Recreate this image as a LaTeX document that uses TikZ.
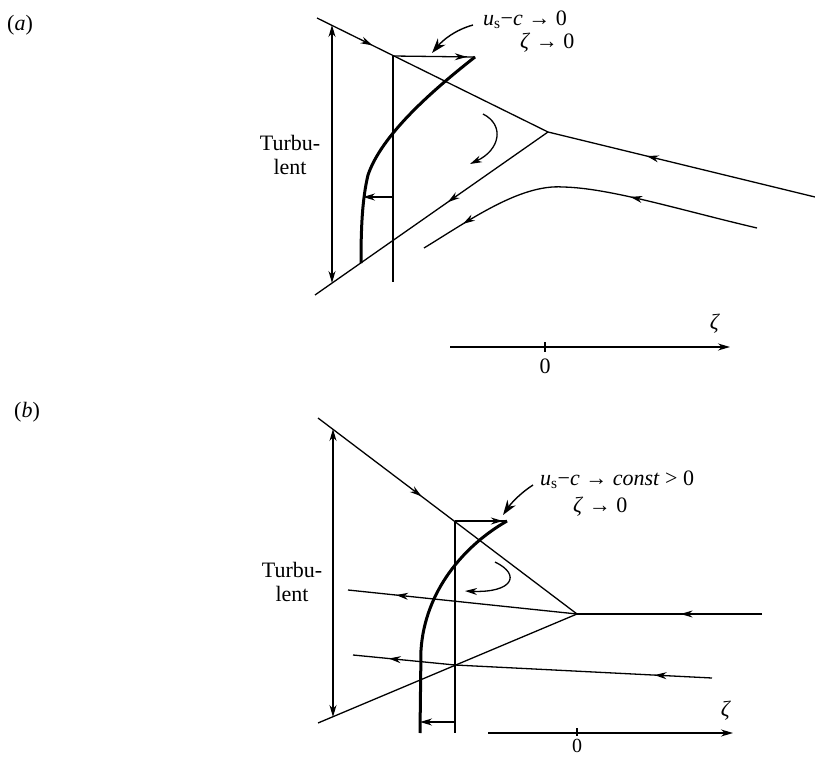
\documentclass[tikz,border=0pt]{standalone}
\usepackage{fontspec}
\setmainfont{Liberation Serif}
\usetikzlibrary{arrows.meta,decorations.markings,calc}
\tikzset{
  thinln/.style={line width=1.3pt},
  thickln/.style={line width=3pt},
  hd/.tip={Stealth[length=12pt,width=7pt]},
  bighd/.tip={Stealth[length=15pt,width=10pt]},
  midarr/.style={postaction={decorate,decoration={markings,mark=at position #1 with {\arrow{hd}}}}},
  midarrtwo/.style 2 args={postaction={decorate,decoration={markings,mark=at position #1 with {\arrow{hd}},mark=at position #2 with {\arrow{hd}}}}},
  lbl/.style={inner sep=0pt,font=\fontsize{22}{24}\selectfont},
  turb/.style={inner sep=0pt,align=center,font=\fontsize{22}{24}\selectfont}
}
\newcommand{\usc}{\textit{u}\textsubscript{s}−\textit{c}}
\begin{document}
\begin{tikzpicture}[x=1pt,y=-1pt]
\useasboundingbox (0,0) rectangle (815,760);
\clip (0,0) rectangle (815,760);
\fill[white] (0,0) rectangle (815,760);

% ---------------- panel (a) ----------------
\node[lbl] (la) at (20,25) {(\textit{a})};
\coordinate (T1) at (317,18);
\coordinate (A1) at (548,132);
\coordinate (R1) at (815,197);
\coordinate (B1) at (315,295);
\draw[thinln,midarr=0.24] (T1) -- (A1);
\draw[thinln,midarr=0.63] (R1) -- (A1);
\draw[thinln,midarr=0.43] (A1) -- (B1);
% double arrow
\coordinate (DA1) at (332,25);
\coordinate (DB1) at (332,283);
\draw[thinln,{hd}-{hd}] (DA1) -- (DB1);
\node[turb] (tu1) at (290,155) {Turbu-\\lent};
% thin vertical line
\coordinate (V1) at (393,56);
\coordinate (W1) at (393,282);
\draw[thinln] (V1) -- (W1);
% velocity profile
\coordinate (Q1) at (475,57);
\coordinate (M1) at (368,175);
\coordinate (E1) at (361,263);
\draw[thinln,midarr=0.9] (V1) -- (Q1);
\draw[thickln,line join=round] (Q1) .. controls (420,100) and (380,140) .. (M1) .. controls (362,200) and (361,230) .. (E1);
\coordinate (h1s) at (393,197);
\coordinate (h1e) at (363,197);
\draw[thinln,-{hd}] (h1s) -- (h1e);
% recirculation arrow
\coordinate (c1s) at (483,114);
\coordinate (c1e) at (470,164);
\draw[thinln,-{hd}] (c1s) .. controls (505,125) and (500,150) .. (c1e);
% lower streamline
\coordinate (S1) at (757,228);
\coordinate (P1) at (563,187);
\coordinate (F1) at (424,248);
\draw[thinln,midarrtwo={0.37}{0.87}] (S1) .. controls (680,210) and (610,188) .. (P1) .. controls (520,184) and (470,220) .. (F1);
% label and leader
\node[lbl,anchor=west] (u1) at (483,20) {\usc\ → 0};
\node[lbl,anchor=west] (z1) at (520,43) {\textit{ζ} → 0};
\coordinate (L1s) at (473,25);
\coordinate (L1e) at (432,53);
\draw[line width=1.4pt,-{bighd}] (L1s) .. controls (455,30) and (443,40) .. (L1e);
% axis
\coordinate (X1a) at (450,347);
\coordinate (X1b) at (730,347);
\draw[thinln,-{hd}] (X1a) -- (X1b);
\coordinate (k1) at (545,347);
\draw[thinln] ($(k1)+(0,-5)$) -- ($(k1)+(0,5)$);
\node[lbl] (o1) at (545,366) {0};
\node[lbl] (zeta1) at (715,324) {\textit{ζ}};

% ---------------- panel (b) ----------------
\node[lbl] (lb) at (27,412) {(\textit{b})};
\coordinate (T2) at (318,418);
\coordinate (A2) at (577,614);
\coordinate (R2) at (762,614);
\coordinate (B2) at (318,723);
\draw[thinln,midarr=0.40] (T2) -- (A2);
\draw[thinln,midarr=0.44] (R2) -- (A2);
\draw[thinln] (A2) -- (B2);
% double arrow
\coordinate (DA2) at (333,429);
\coordinate (DB2) at (333,717);
\draw[thinln,{hd}-{hd}] (DA2) -- (DB2);
\node[turb] (tu2) at (292,582) {Turbu-\\lent};
% thin vertical line
\coordinate (V2) at (455,521);
\coordinate (W2) at (455,733);
\draw[thinln] (V2) -- (W2);
% velocity profile
\coordinate (Q2) at (507,521);
\coordinate (M2) at (421,650);
\coordinate (E2) at (420,733);
\draw[thinln,midarr=0.92] (V2) -- (Q2);
\draw[thickln,line join=round] (Q2) .. controls (465,545) and (425,590) .. (M2) -- (E2);
\coordinate (h2s) at (455,722);
\coordinate (h2e) at (420,722);
\draw[thinln,-{hd}] (h2s) -- (h2e);
% recirculation arrow
\coordinate (c2s) at (495,562);
\coordinate (c2e) at (465,591);
\draw[thinln,-{hd}] (c2s) .. controls (522,575) and (512,593) .. (c2e);
% streamlines
\coordinate (S21) at (348,590);
\draw[thinln,midarr=0.79] (A2) -- (S21);
\coordinate (S22) at (712,678);
\coordinate (X22) at (455,665);
\coordinate (F22) at (353,655);
\draw[thinln,midarrtwo={0.16}{0.9}] (S22) -- (X22) -- (F22);
% label and leader
\node[lbl,anchor=west] (u2) at (540,480) {\usc\ → \textit{const} > 0};
\node[lbl,anchor=west] (z2) at (573,507) {\textit{ζ} → 0};
\coordinate (L2s) at (533,485);
\coordinate (L2e) at (503,515);
\draw[line width=1.4pt,-{bighd}] (L2s) .. controls (522,492) and (512,502) .. (L2e);
% axis
\coordinate (X2a) at (488,733);
\coordinate (X2b) at (733,733);
\draw[thinln,-{hd}] (X2a) -- (X2b);
\coordinate (k2) at (577,733);
\draw[thinln] ($(k2)+(0,-5)$) -- ($(k2)+(0,3)$);
\node[inner sep=0pt,font=\fontsize{20}{22}\selectfont,anchor=south] (o2) at (577,753) {0};
\node[lbl] (zeta2) at (726,711) {\textit{ζ}};
\end{tikzpicture}
\end{document}
